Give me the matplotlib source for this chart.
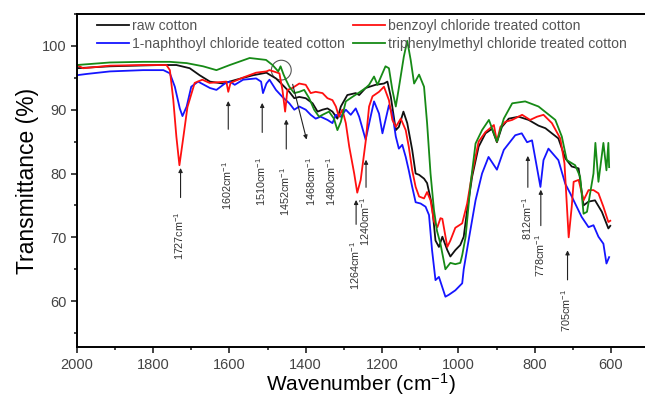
import numpy as np
import matplotlib
matplotlib.use("Agg")
import matplotlib.pyplot as plt
from matplotlib.patches import Ellipse
from matplotlib.ticker import MultipleLocator

plt.rcParams['font.family'] = ['Liberation Sans', 'DejaVu Sans']
plt.rcParams['mathtext.default'] = 'regular'

# raw cotton
raw_wn = [2000, 1913, 1782, 1739, 1704, 1678, 1651, 1617, 1582, 1538, 1503, 1495, 1478,
          1461, 1443, 1430, 1417, 1400, 1382, 1369, 1356, 1343, 1330, 1317, 1308, 1291,
          1269, 1260, 1243, 1217, 1195, 1186, 1177, 1164, 1156, 1144, 1134, 1121, 1112,
          1103, 1090, 1082, 1069, 1060, 1051, 1042, 1029, 1021, 1008, 995, 986, 977, 964,
          947, 929, 912, 899, 886, 868, 842, 816, 790, 772, 738, 720, 703, 685, 672, 659,
          642, 624, 607, 602]
raw_t = [96.5, 96.8, 97.0, 97.0, 96.5, 95.4, 94.4, 94.1, 94.7, 95.4, 95.8, 95.5, 94.9,
         93.9, 92.8, 91.8, 92.0, 91.8, 91.0, 89.7, 90.0, 90.2, 89.7, 88.6, 90.5, 92.3,
         92.6, 92.3, 93.4, 93.9, 94.1, 94.4, 92.0, 86.8, 87.3, 89.7, 87.9, 83.7, 80.0,
         79.8, 79.2, 78.5, 75.0, 69.5, 68.5, 70.1, 68.0, 67.0, 68.0, 68.8, 70.1, 74.3, 79.5,
         84.2, 86.3, 87.0, 84.9, 87.3, 88.6, 88.9, 88.4, 87.5, 87.1, 85.5, 82.4, 81.1, 80.8,
         75.0, 75.6, 75.8, 74.0, 71.4, 71.8]

# benzoyl chloride treated cotton
benz_wn = [2000, 1983, 1913, 1826, 1765, 1756, 1747, 1739, 1731, 1720, 1710, 1691, 1671,
           1652, 1608, 1603, 1597, 1566, 1530, 1503, 1495, 1469, 1461, 1454, 1448, 1435,
           1417, 1400, 1387, 1374, 1356, 1343, 1330, 1321, 1313, 1304, 1295, 1286, 1273,
           1265, 1256, 1243, 1234, 1225, 1208, 1195, 1182, 1173, 1164, 1151, 1138, 1130,
           1121, 1112, 1103, 1090, 1082, 1073, 1064, 1055, 1047, 1042, 1029, 1021, 1008,
           995, 990, 977, 964, 947, 929, 907, 899, 890, 877, 859, 833, 812, 794, 777, 755,
           733, 722, 718, 711, 703, 698, 685, 672, 659, 646, 633, 620, 607, 602]
benz_t = [97.0, 96.5, 96.9, 97.0, 97.0, 96.2, 91.5, 85.8, 81.3, 86.0, 90.4, 94.2, 94.7,
          94.2, 94.4, 92.8, 94.2, 95.0, 95.8, 96.0, 96.2, 95.7, 93.1, 89.7, 93.1, 93.4,
          94.1, 93.9, 92.6, 92.8, 92.6, 91.8, 91.5, 90.5, 88.9, 90.0, 87.9, 84.2, 80.0,
          77.0, 79.0, 85.0, 90.5, 92.1, 92.8, 93.6, 91.5, 88.4, 87.3, 88.6, 86.8, 84.2,
          80.5, 77.9, 76.4, 76.1, 77.1, 75.8, 72.5, 71.6, 73.0, 72.9, 68.5, 69.5, 71.5,
          72.0, 72.2, 75.3, 80.0, 85.0, 86.5, 87.6, 85.0, 87.3, 88.1, 88.4, 89.2, 88.4, 88.9,
          89.2, 87.9, 85.5, 81.6, 77.4, 70.0, 74.8, 78.7, 79.0, 75.8, 77.4, 77.4, 76.9, 74.8,
          72.4, 72.6]

# 1-naphthoyl chloride treated cotton
naph_wn = [2000, 1974, 1913, 1826, 1773, 1756, 1743, 1730, 1723, 1712, 1700, 1682, 1651,
           1634, 1612, 1599, 1586, 1564, 1530, 1517, 1512, 1503, 1495, 1478, 1461, 1443,
           1430, 1417, 1400, 1387, 1374, 1361, 1343, 1330, 1321, 1308, 1295, 1282, 1269,
           1260, 1243, 1230, 1221, 1208, 1199, 1182, 1173, 1164, 1156, 1147, 1138, 1130,
           1121, 1112, 1099, 1086, 1077, 1069, 1060, 1051, 1034, 1025, 1008, 990, 986, 973,
           955, 938, 921, 899, 881, 851, 834, 820, 807, 785, 777, 764, 738, 720, 707, 694,
           677, 659, 646, 633, 620, 612, 605]
naph_t = [95.4, 95.6, 96.0, 96.2, 96.2, 95.7, 93.6, 90.2, 89.0, 90.5, 93.6, 94.4, 93.4,
          93.1, 94.1, 94.4, 93.9, 94.7, 94.9, 94.4, 92.6, 94.1, 94.7, 93.1, 92.0, 91.0,
          90.0, 90.5, 90.0, 89.2, 88.6, 88.9, 88.4, 87.9, 89.2, 88.9, 90.0, 89.2, 90.2,
          88.9, 85.3, 88.9, 91.3, 89.4, 86.3, 90.7, 89.4, 85.8, 83.9, 84.5, 82.6, 80.5,
          77.9, 75.5, 75.3, 74.8, 73.5, 68.0, 63.3, 63.8, 60.7, 61.0, 61.7, 62.8, 65.0, 69.6,
          75.8, 80.0, 82.6, 80.6, 83.7, 86.0, 86.3, 84.9, 85.2, 77.9, 82.1, 83.9, 82.1, 78.4,
          76.9, 75.3, 73.2, 71.6, 71.9, 70.1, 69.0, 65.9, 66.9]

# triphenylmethyl chloride treated cotton
trip_wn = [2000, 1913, 1826, 1756, 1712, 1669, 1634, 1599, 1547, 1504, 1487, 1472, 1466,
           1458, 1452, 1443, 1430, 1417, 1404, 1391, 1378, 1365, 1356, 1339, 1326, 1317,
           1308, 1295, 1278, 1260, 1243, 1234, 1221, 1212, 1199, 1191, 1182, 1173, 1164,
           1156, 1143, 1134, 1125, 1116, 1103, 1090, 1082, 1073, 1064, 1056, 1047, 1034,
           1021, 1008, 995, 990, 981, 968, 955, 938, 920, 899, 881, 859, 825, 790, 746, 729,
           716, 694, 681, 672, 663, 646, 641, 633, 620, 612, 607, 605]
trip_t = [97.0, 97.4, 97.5, 97.5, 97.3, 96.8, 96.2, 97.0, 98.1, 97.8, 97.0, 96.0, 96.8,
          95.5, 94.7, 93.6, 92.6, 92.8, 93.1, 91.8, 90.0, 88.9, 89.2, 89.7, 88.6, 86.8,
          88.1, 91.3, 92.0, 92.7, 93.4, 93.9, 95.2, 93.9, 95.7, 96.8, 96.5, 93.1, 90.5,
          93.4, 98.3, 100.8, 97.8, 94.1, 95.5, 93.6, 87.9, 80.0, 74.3, 71.0, 69.0, 65.0,
          66.0, 65.8, 66.0, 67.2, 70.1, 78.4, 84.7, 86.8, 88.4, 85.0, 88.6, 91.0, 91.3, 90.5,
          88.4, 85.8, 82.1, 81.3, 79.5, 73.7, 74.0, 80.0, 84.8, 78.7, 84.8, 80.5, 84.8, 81.0]

# peak labels: wavenumber, arrow tip T, arrow tail T, label centre T
peaks = ['1727', '1602', '1510', '1452', '1240', '1264', '812', '778', '705']
peak_x = [1728, 1603, 1514, 1451, 1242, 1268, 818, 784, 714]
tip_t = [81.3, 91.8, 91.5, 88.9, 82.6, 76.3, 83.2, 77.9, 68.4]
tail_t = [75.8, 86.5, 86.0, 83.4, 77.4, 71.6, 77.4, 71.4, 62.9]
label_t = [70.2, 78.2, 78.8, 77.2, 72.5, 65.6, 73.0, 67.2, 58.6]

fig = plt.figure(figsize=(6.45, 3.99), dpi=100)
ax = fig.add_axes([0.119, 0.130, 0.881, 0.835])

ax.plot(raw_wn, raw_t, color='#111111', lw=1.3, label='raw cotton')
ax.plot(naph_wn, naph_t, color='#1515ff', lw=1.3, label='1-naphthoyl chloride teated cotton')
ax.plot(benz_wn, benz_t, color='#ff1010', lw=1.3, label='benzoyl chloride treated cotton')
ax.plot(trip_wn, trip_t, color='#168a16', lw=1.3, label='triphenylmethyl chloride treated cotton')

txt_kw = dict(rotation=90, ha='center', va='center', fontsize=7.8, color='#333333')
for name, x, t1, t0, tl in zip(peaks, peak_x, tip_t, tail_t, label_t):
    ax.annotate('', xy=(x, t1), xytext=(x, t0),
                arrowprops=dict(arrowstyle='-|>', color='#222222', lw=0.8, mutation_scale=6))
    ax.text(x + 3, tl, name + 'cm$^{-1}$', **txt_kw)

# 1468 diagonal arrow from circled region, 1480 has no arrow
ax.add_patch(Ellipse((1464, 96.2), 52, 3.1, fill=False, ec='#555555', lw=0.8))
ax.annotate('', xy=(1396, 84.9), xytext=(1436, 94.4),
            arrowprops=dict(arrowstyle='-|>', color='#222222', lw=0.8, mutation_scale=6))
ax.text(1386, 78.8, '1468cm$^{-1}$', **txt_kw)
ax.text(1333, 78.8, '1480cm$^{-1}$', **txt_kw)

ax.set_xlim(2000, 511)
ax.set_ylim(52.8, 105)
ax.xaxis.set_major_locator(MultipleLocator(200))
ax.xaxis.set_minor_locator(MultipleLocator(100))
ax.yaxis.set_major_locator(MultipleLocator(10))
ax.yaxis.set_minor_locator(MultipleLocator(5))
ax.set_yticks([60, 70, 80, 90, 100])
ax.tick_params(which='both', direction='out', colors='#222222', labelcolor='#444444',
               labelsize=10.5, width=1.2)
ax.tick_params(which='major', length=4)
ax.tick_params(which='minor', length=2.5)
for s in ['left', 'bottom', 'top']:
    ax.spines[s].set_linewidth(1.4)
ax.spines['right'].set_visible(False)

ax.set_xlabel('Wavenumber (cm$^{-1}$)', fontsize=15, labelpad=-0.5)
ax.set_ylabel('Transmittance (%)', fontsize=16.5, labelpad=2)

ax.legend(ncol=2, loc='upper left', bbox_to_anchor=(0.035, 0.985), frameon=False,
          fontsize=10.1, handlelength=2.3, handletextpad=0.2, columnspacing=0.6,
          labelspacing=0.3, borderpad=0, borderaxespad=0, labelcolor='#555555')

fig.savefig('out.png', dpi=100)
